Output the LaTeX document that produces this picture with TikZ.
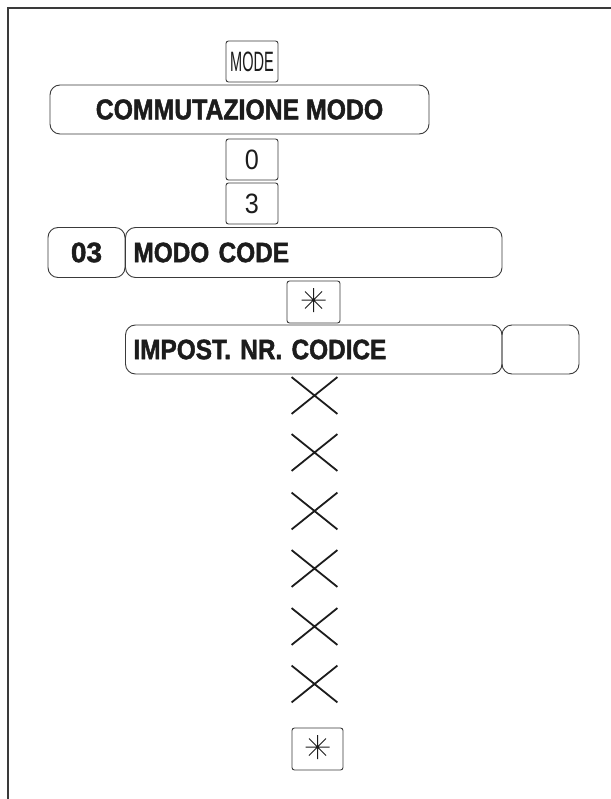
\documentclass[tikz,border=0pt]{standalone}
\usepackage{fontspec}
\setmainfont{Liberation Sans}
\newfontfamily\boldcond{Liberation Sans Bold}[FakeStretch=0.87,FakeBold=1.6]
\newfontfamily\boldwide{Liberation Sans Bold}[FakeStretch=1.0,FakeBold=1.6]
\newfontfamily\thincond{Liberation Sans}[FakeStretch=0.52]
\newfontfamily\thinfont{Liberation Sans}[FakeStretch=0.9]
\usetikzlibrary{shapes.misc}
\definecolor{linec}{HTML}{3A3A3A}
\definecolor{inkc}{HTML}{1C1C1C}
\tikzset{
  keybox/.style={draw=linec, line width=0.9pt, rounded corners=2.5pt, inner sep=0pt,
    minimum width=52pt, minimum height=41pt, text=inkc},
  panel/.style={draw=linec, line width=0.9pt, rounded corners=10pt, inner sep=0pt,
    minimum height=50pt, text=inkc},
  leftpanel/.style={panel, inner xsep=8pt, text width=360.5pt, align=left},
  crossmark/.style={cross out, draw=inkc, line width=1.8pt, inner sep=0pt,
    minimum width=44pt, minimum height=35pt},
  starkey/.style={keybox, path picture={
    \draw[inkc, line width=1pt] ([yshift=2pt]path picture bounding box.center)
      +(-12pt,0pt) -- +(12pt,0pt)
      +(0pt,-12pt) -- +(0pt,12pt)
      +(-8.5pt,-8.5pt) -- +(8.5pt,8.5pt)
      +(-8.5pt,8.5pt) -- +(8.5pt,-8.5pt);}},
  bigtxt/.style={font=\fontsize{28.5}{28.5}\selectfont\boldcond},
  midtxt/.style={font=\fontsize{28}{28}\selectfont\boldcond}
}
\begin{document}
\begin{tikzpicture}[x=1pt,y=-1pt]
\useasboundingbox (0,0) rectangle (610,799);
% frame
\draw[linec, line width=2pt] (8,805) -- (8,8) -- (616,8);

\node[keybox, font=\fontsize{28}{28}\selectfont\thincond] (mode) at (252,61.5) {MODE};
\node[panel, bigtxt, minimum width=379pt, minimum height=49pt] (comm) at (239.5,109.5) {COMMUTAZIONE MODO};
\node[keybox, font=\fontsize{28}{28}\selectfont\thinfont] (k0) at (252,159.5) {0};
\node[keybox, font=\fontsize{28}{28}\selectfont\thinfont] (k3) at (252,203.5) {3};
\node[panel, font=\fontsize{28}{28}\selectfont\boldwide, minimum width=77pt] (n03) at (86.5,252.5) {03};
\node[leftpanel, midtxt] (modo) at (313.75,252.5) {MODO CODE};
\node[starkey, minimum width=53pt, minimum height=42pt] (star1) at (313.5,302) {};
\node[leftpanel, midtxt, minimum height=49pt] (impost) at (313.75,349.5) {IMPOST. NR. CODICE};
\node[panel, minimum width=77pt, minimum height=49pt] (small) at (540.5,349.5) {};

\node[crossmark] (x1) at (314.5,395.5) {};
\node[crossmark] (x2) at (314.5,452.5) {};
\node[crossmark] (x3) at (314.5,511) {};
\node[crossmark] (x4) at (314.5,568.5) {};
\node[crossmark] (x5) at (314.5,626.5) {};
\node[crossmark] (x6) at (314.5,684) {};

\node[starkey, minimum width=51pt, minimum height=42pt] (star2) at (317.5,749) {};
\end{tikzpicture}
\end{document}
